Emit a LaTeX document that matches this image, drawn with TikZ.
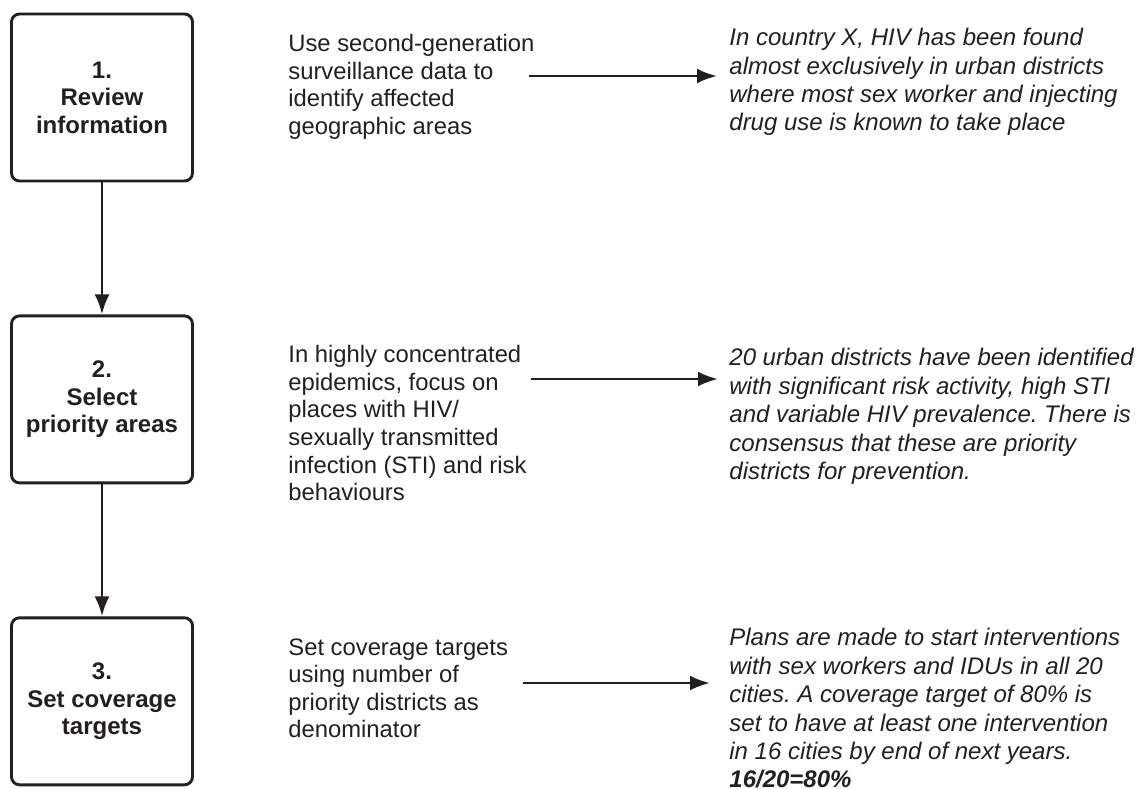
\documentclass[tikz,border=0pt]{standalone}
\usepackage{fontspec}
\setmainfont{Liberation Sans}
\usetikzlibrary{arrows.meta,positioning}
\definecolor{ink}{HTML}{231F20}
\frenchspacing

\begin{document}
\begin{tikzpicture}[
x=0.5pt, y=-0.5pt,
node distance=66pt,
stepbox/.style={draw=ink, line width=1.45pt, rounded corners=4pt, align=center, minimum width=90.5pt, minimum height=83.5pt, inner sep=0pt, text=ink, font=\fontsize{12}{13.75}\selectfont\bfseries},
howto/.style={anchor=north west, align=left, inner sep=0pt, text=ink, font=\fontsize{11.9}{13.8}\selectfont},
example/.style={howto, font=\fontsize{12}{14.2}\selectfont\itshape},
arrow/.style={-{Latex[length=10pt, width=7.5pt]}, line width=1.45pt, draw=ink}
]
\useasboundingbox (0,0) rectangle (1139,788);

\node[stepbox] (s1) at (102,97.5) {1.\\Review\\information};
\node[stepbox, below=of s1] (s2) {2.\\Select\\priority areas};
\node[stepbox, below=of s2] (s3) {3.\\Set coverage\\targets};

\node[howto] (m1) at (288,34) {Use second-generation\\surveillance data to\\identify affected\\geographic areas};
\node[howto] (m2) at (288,345) {In highly concentrated\\epidemics, focus on\\places with HIV/\\sexually transmitted\\infection (STI) and risk\\behaviours};
\node[howto] (m3) at (288,638) {Set coverage targets\\using number of\\priority districts as\\denominator};

\node[example] (r1) at (729,28) {In country X, HIV has been found\\almost exclusively in urban districts\\where most sex worker and injecting\\drug use is known to take place};
\node[example] (r2) at (729,348) {20 urban districts have been identified\\with significant risk activity, high STI\\and variable HIV prevalence. There is\\consensus that these are priority\\districts for prevention.};
\node[example] (r3) at (729,628) {Plans are made to start interventions\\with sex workers and IDUs in all 20\\cities. A coverage target of 80\% is\\set to have at least one intervention\\in 16 cities by end of next years.\\\textbf{16/20=80\%}};

\coordinate (f1) at (529,76);
\coordinate (f2) at (531,379);
\coordinate (f3) at (523,683);

\draw[arrow] (s1) -- (s2);
\draw[arrow] (s2) -- (s3);
\draw[arrow, shorten >=6pt] (f1) -- (r1.west |- f1);
\draw[arrow, shorten >=5.5pt] (f2) -- (r2.west |- f2);
\draw[arrow, shorten >=9.5pt] (f3) -- (r3.west |- f3);
\end{tikzpicture}
\end{document}
